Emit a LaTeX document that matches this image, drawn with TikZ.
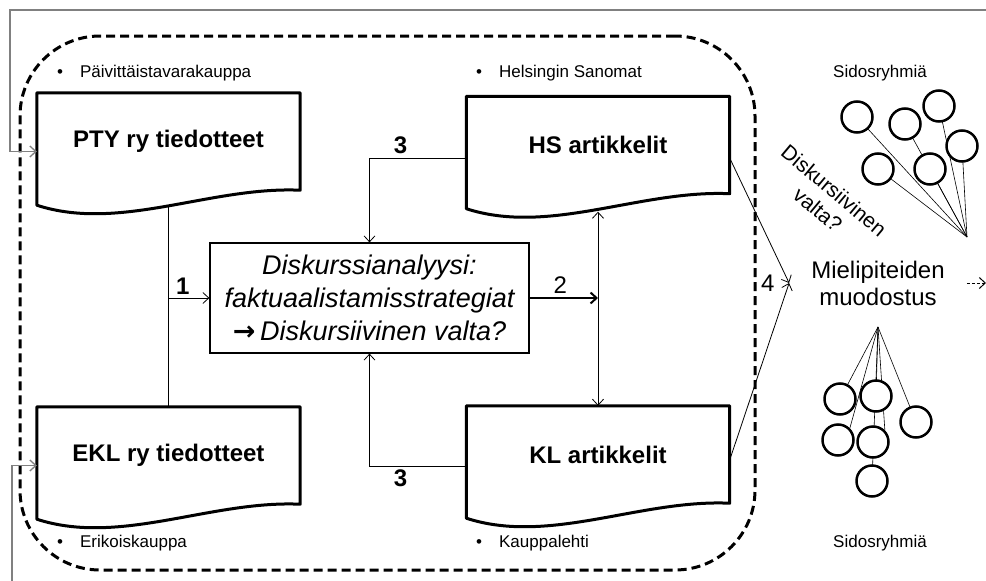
\documentclass[tikz,border=0pt]{standalone}
\usepackage{fontspec}
\setmainfont{Liberation Sans}
\newfontfamily\arrowfont{DejaVu Sans}
\usetikzlibrary{arrows.meta,backgrounds}

\begin{document}
\begin{tikzpicture}[x=1pt,y=-1pt,
    >={Straight Barb[length=6pt,width=11pt]},
    doc/.style={minimum width=263pt,minimum height=97pt,inner sep=0pt,
      font=\fontsize{24}{28}\selectfont\bfseries},
    docline/.style={line width=3pt,line join=round},
    lbl/.style={font=\fontsize{17}{20}\selectfont,anchor=base west,inner sep=0pt},
    num/.style={font=\fontsize{24}{28}\selectfont\bfseries},
    ball/.style={circle,draw,line width=2.5pt,fill=white,minimum size=31pt,inner sep=0pt},
    fb/.style={draw=gray,line width=1.3pt}]
      \useasboundingbox (0,0) rectangle (986,581);
      \node[draw,line width=3pt,dash pattern=on 9pt off 5pt,rounded corners=80pt,
        minimum width=735pt,minimum height=534pt] (grp) at (387.5,303) {};

      \node[doc] (pty) at (168.5,141.5) {PTY ry tiedotteet};
      \node[doc] (ekl) at (168.5,455.5) {EKL ry tiedotteet};
      \node[doc] (hs) at (598,145) {HS artikkelit};
      \node[doc] (kl) at (598,454.5) {KL artikkelit};
      \foreach \d in {pty,ekl,hs,kl}{
        \draw[docline] ([yshift=-15pt]\d.south west)
          .. controls ([xshift=83pt,yshift=-42pt]\d.south west) and ([xshift=-90pt,yshift=4pt]\d.south east) .. (\d.south east)
          -- (\d.north east) -- (\d.north west) -- cycle;
      }

      \node[lbl] (pva) at (57,77) {\textbullet\hspace{17pt}Päivittäistavarakauppa};
      \node[lbl] (eri) at (57,547) {\textbullet\hspace{17pt}Erikoiskauppa};
      \node[lbl] (hsa) at (476,77) {\textbullet\hspace{17pt}Helsingin Sanomat};
      \node[lbl] (kpl) at (476,547) {\textbullet\hspace{17pt}Kauppalehti};

      \node[draw,line width=1.2pt,minimum width=319pt,minimum height=110pt,align=center,
        font=\fontsize{27}{33}\selectfont\itshape] (ana) at (369.5,298)
        {Diskurssianalyysi:\\faktuaalistamisstrategiat\\{\arrowfont\upshape\bfseries →}\,Diskursiivinen valta?};

      \node[align=center,inner xsep=22pt,font=\fontsize{24}{27}\selectfont] (muo) at (878,283) {Mielipiteiden\\muodostus};
      \node[rotate=-40,align=center,font=\fontsize{21}{25}\selectfont] (valta) at (826,200) {Diskursiivinen\\valta?};
      \node[font=\fontsize{17}{20}\selectfont,anchor=base] (sr1) at (880,77) {Sidosryhmiä};
      \node[font=\fontsize{17}{20}\selectfont,anchor=base] (sr2) at (880,547) {Sidosryhmiä};

      \coordinate (tap) at (967,237);
      \foreach \i/\p in {1/{857,117},2/{905,124},3/{939,106},4/{962,146},5/{878,169},6/{930,169}}
        \node[ball] (t\i) at (\p) {};
      \coordinate (bap) at (878,327);
      \foreach \i/\p in {1/{840,399},2/{876,396},3/{916,422},4/{838,440},5/{873,442},6/{872,481}}
        \node[ball] (b\i) at (\p) {};
      \begin{scope}[on background layer]
        \foreach \i in {1,...,6}
          \draw[line width=0.6pt] (tap) -- (t\i.center);
        \foreach \i/\a in {1/center,2/center,3/center,4/north east,5/north east,6/center}
          \draw[line width=0.6pt] (bap) -- (b\i.\a);
      \end{scope}

      \draw[line width=0.8pt] ([yshift=-16pt]pty.south) -- (ekl.north);
      \draw[->,line width=0.8pt] (ekl.north |- ana.west) -- node[num,pos=0.35,above] {1} (ana.west);
      \draw[->,line width=2pt] (ana.east) -- node[pos=0.45,above,font=\fontsize{24}{28}\selectfont] {2} (ana.east -| hs.south);
      \draw[<->,line width=0.8pt] ([yshift=-18pt]hs.south) -- (kl.north);
      \draw[->,line width=0.8pt] ([yshift=-13pt]hs.west) -| node[num,pos=0.34,above] {3} (ana.north);
      \draw[->,line width=0.8pt] ([yshift=-12pt]kl.west) -| node[num,pos=0.34,below] {3} (ana.south);
      \draw[->,line width=0.8pt] ([yshift=-13pt]hs.east) -- node[pos=1,left,xshift=-11pt,font=\fontsize{24}{28}\selectfont] {4} (muo.west);
      \draw[->,line width=0.8pt] ([yshift=-5.5pt]kl.east) -- (muo.west);

      \coordinate (out) at (986,283);
      \draw[->,line width=1pt,dash pattern=on 3pt off 2pt] (muo.east) -- (out);

      \coordinate (fbr) at (986,10);
      \coordinate (fbl) at (10,10);
      \coordinate (fbb) at (12,581);
      \draw[fb,->] (fbr) -- (fbl) |- ([yshift=-10pt]pty.west);
      \draw[fb,->] (fbb) |- ([yshift=-10pt]ekl.west);
    \end{tikzpicture}
\end{document}
